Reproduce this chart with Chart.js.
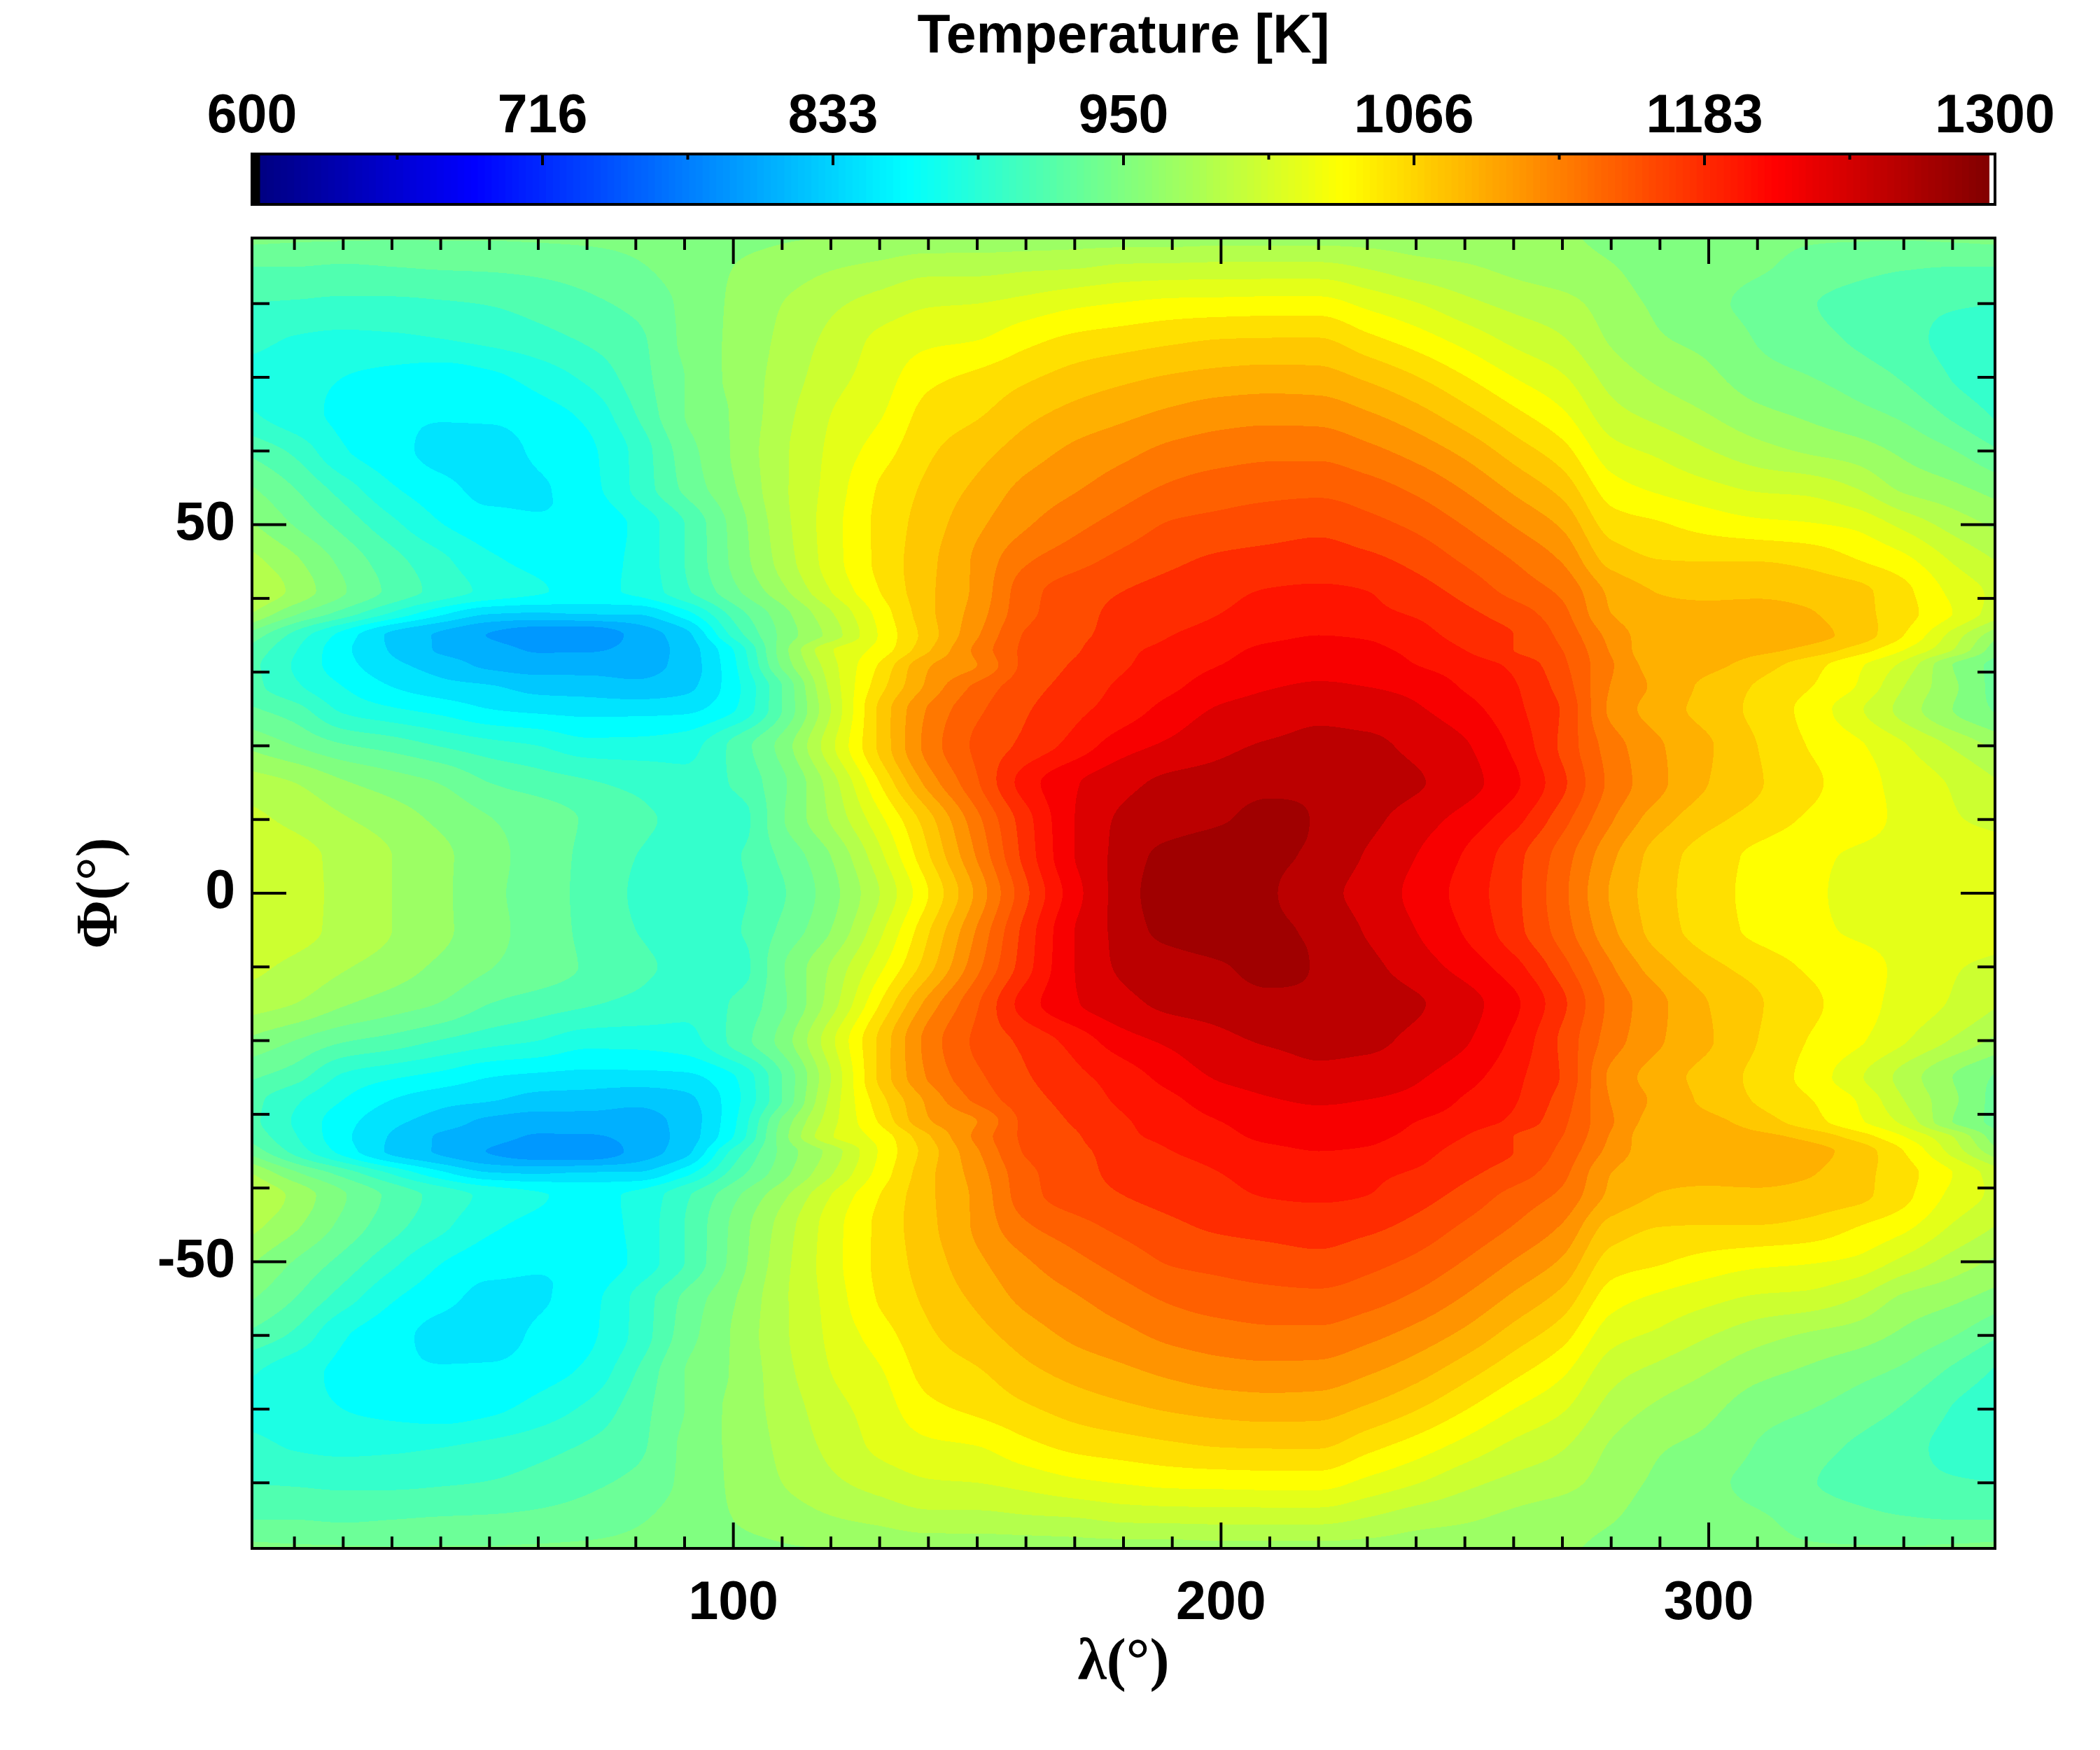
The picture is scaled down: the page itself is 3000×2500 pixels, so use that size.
<!DOCTYPE html>
<html>
<head>
<meta charset="utf-8">
<title>Temperature map</title>
<script src="https://cdn.jsdelivr.net/npm/chart.js@4/dist/chart.umd.js"></script>
<style>
  html, body { margin: 0; padding: 0; background: #fff; }
  #wrap { position: relative; width: 3000px; height: 2500px; }
  canvas { position: absolute; left: 0; top: 0; }
</style>
</head>
<body>
<div id="wrap">
  <canvas id="mapChart" width="3000" height="2500"></canvas>
  <canvas id="barChart" width="3000" height="330"></canvas>
</div>
<script>
// Longitudes of the sampled columns (deg)
const lonValues = [0,10,20,30,40,50,60,70,80,90,100,110,120,130,140,150,160,170,180,190,200,210,220,230,240,250,260,270,280,290,300,310,320,330,340,350,360];
// Latitudes of the sampled rows (deg), the map is mirrored about the equator
const latValues = [0,5,10,15,20,25,28,31,33,35,38,41,45,50,55,60,65,70,75,80,85,89];
// Temperature [K], one row per latitude
const temp00 = [1019,1013,1004,990,976,959,945,931,916,909,914,934,965,1008,1062,1121,1184,1235,1269,1289,1291,1280,1267,1253,1237,1217,1193,1157,1114,1087,1069,1057,1048,1040,1037,1033,1031];
const temp05 = [1017,1013,1003,990,976,961,945,932,918,911,916,940,972,1021,1078,1136,1195,1242,1267,1285,1289,1282,1274,1258,1242,1222,1195,1161,1120,1089,1071,1058,1049,1042,1039,1035,1031];
const temp10 = [1013,1004,992,981,968,955,945,934,923,913,909,952,992,1039,1091,1147,1199,1242,1263,1269,1276,1285,1276,1265,1251,1235,1213,1177,1136,1105,1085,1073,1060,1051,1040,1028,1021];
const temp15 = [999,990,974,963,953,936,927,920,913,905,920,950,999,1062,1123,1168,1215,1240,1255,1264,1267,1271,1274,1269,1262,1249,1228,1192,1147,1120,1098,1082,1067,1053,1037,1024,1008];
const temp20 = [970,954,938,929,917,907,900,889,889,893,923,961,1021,1084,1141,1174,1193,1213,1235,1246,1256,1262,1265,1264,1255,1244,1220,1184,1143,1118,1100,1080,1062,1048,1028,1006,983];
const temp25 = [940,925,896,884,875,864,859,857,857,859,880,936,1008,1084,1136,1166,1186,1201,1215,1231,1244,1249,1255,1251,1244,1231,1211,1186,1130,1107,1091,1075,1057,1031,1001,972,949];
const temp28 = [927,904,882,864,853,848,839,837,833,841,875,936,1013,1073,1121,1157,1181,1195,1210,1221,1234,1241,1244,1242,1237,1222,1208,1180,1133,1111,1093,1078,1064,1044,1008,976,943];
const temp31 = [927,898,871,851,837,824,819,820,821,835,878,958,1019,1064,1114,1134,1175,1190,1204,1215,1224,1233,1237,1235,1224,1215,1202,1174,1136,1107,1103,1089,1071,1049,1021,972,945];
const temp33 = [934,902,869,844,826,819,808,808,817,835,882,963,1024,1051,1096,1139,1174,1186,1202,1211,1219,1228,1231,1228,1219,1206,1188,1170,1132,1103,1107,1103,1093,1073,1044,1008,954];
const temp35 = [952,912,875,842,825,809,798,796,816,839,905,959,997,1046,1089,1132,1172,1184,1195,1206,1213,1220,1224,1222,1213,1199,1188,1165,1128,1105,1112,1112,1105,1091,1062,1019,972];
const temp38 = [995,958,929,898,869,848,845,848,848,875,925,965,1006,1051,1093,1125,1165,1181,1193,1199,1206,1212,1217,1210,1204,1192,1179,1157,1116,1102,1103,1105,1100,1087,1069,1044,1012];
const temp41 = [1012,985,956,931,911,895,884,877,886,914,949,985,1026,1062,1094,1121,1163,1179,1188,1195,1202,1207,1209,1206,1196,1182,1164,1148,1112,1097,1094,1094,1091,1085,1067,1039,1019];
const temp45 = [999,976,949,925,905,886,877,873,887,918,958,997,1035,1067,1093,1120,1150,1164,1176,1185,1192,1195,1197,1193,1183,1168,1152,1133,1092,1081,1080,1080,1076,1064,1050,1025,1006];
const temp50 = [977,953,930,905,883,871,866,868,886,918,960,1001,1036,1067,1089,1112,1132,1147,1160,1172,1176,1180,1183,1176,1166,1151,1133,1113,1072,1064,1055,1049,1046,1040,1021,1001,985];
const temp55 = [958,936,909,884,870,859,862,875,904,940,970,1004,1033,1064,1084,1102,1121,1132,1144,1155,1161,1164,1165,1159,1148,1132,1112,1091,1052,1040,1031,1023,1020,1008,986,976,963];
const temp60 = [934,914,884,871,858,855,868,878,905,945,974,1004,1030,1053,1077,1091,1107,1120,1129,1139,1144,1147,1147,1139,1127,1111,1090,1069,1033,1022,1009,997,988,981,968,955,936];
const temp65 = [904,889,878,869,866,868,875,886,918,954,974,1001,1026,1042,1069,1078,1093,1104,1112,1120,1126,1128,1127,1118,1105,1087,1067,1047,1015,1002,990,977,969,960,950,932,913];
const temp70 = [893,887,882,877,873,878,889,904,927,954,977,997,1019,1035,1057,1066,1077,1087,1094,1100,1104,1106,1105,1095,1081,1063,1044,1028,1001,986,976,962,955,946,934,917,905];
const temp75 = [908,898,895,896,899,904,911,920,931,958,976,994,1013,1030,1040,1044,1057,1067,1072,1077,1081,1082,1082,1068,1054,1038,1022,1010,988,974,967,953,943,934,924,913,907];
const temp80 = [918,916,914,914,916,919,925,932,941,958,975,990,1004,1015,1024,1026,1032,1040,1045,1049,1050,1051,1051,1039,1027,1013,1003,996,981,968,958,949,938,930,923,920,918];
const temp85 = [936,936,934,936,938,939,941,945,952,961,972,979,988,994,1001,1001,1004,1006,1011,1012,1013,1013,1013,1006,997,992,985,979,973,963,959,956,949,943,938,936,936];
const temp89 = [961,958,957,956,956,956,957,958,959,961,967,970,972,974,976,977,977,979,979,979,981,981,981,981,979,977,976,974,967,961,959,958,956,956,956,958,961];
const tempRows = [temp00,temp05,temp10,temp15,temp20,temp25,temp28,temp31,temp33,temp35,temp38,temp41,temp45,temp50,temp55,temp60,temp65,temp70,temp75,temp80,temp85,temp89];

// Filled contour levels
const levelStart = 792;
const levelStep = 18;
const bandColors = ['#0098ff','#00b0ff','#00c8ff','#00e4ff','#00ffff','#1cffe4','#34ffcc','#50ffb0','#6cff98','#80ff80','#9cff64','#b4ff4c','#ccff30','#e4ff18','#ffff00','#ffe000','#ffc800','#ffb000','#ff9400','#ff7800','#ff6000','#ff4c00','#ff2c00','#ff1400','#f80000','#dc0000','#bb0000','#a00000'];

// Axis ticks
const lonTicks = [10,20,30,40,50,60,70,80,90,100,110,120,130,140,150,160,170,180,190,200,210,220,230,240,250,260,270,280,290,300,310,320,330,340,350];
const lonLabels = [100,200,300];
const latTicks = [-80,-70,-60,-50,-40,-30,-20,-10,0,10,20,30,40,50,60,70,80];
const latLabels = [-50,0,50];
const barMajorTicks = [600,716.67,833.33,950,1066.67,1183.33,1300];
const barMinorTicks = [658.33,775,891.67,1008.33,1125,1241.67];
const barLabels = ['600','716','833','950','1066','1183','1300'];

const FONT = '"Liberation Sans", Arial, sans-serif';
const tickFont = { family: FONT, size: 77, weight: 'bold' };
const greekFont = { family: '"Liberation Serif", serif', size: 84, weight: 'bold' };

function segment(ctx, x1, y1, x2, y2, width) {
  ctx.lineWidth = width;
  ctx.beginPath();
  ctx.moveTo(x1, y1);
  ctx.lineTo(x2, y2);
  ctx.stroke();
}

function findCell(axis, v) {
  let i = 0;
  while (i < axis.length - 2 && v > axis[i + 1]) i++;
  return i;
}

// Slopes for a shape preserving curve through the samples, so the bands do not overshoot
function slopes(axis, vals) {
  const n = axis.length;
  const m = new Array(n).fill(0);
  for (let i = 1; i < n - 1; i++) {
    const d0 = (vals[i] - vals[i - 1]) / (axis[i] - axis[i - 1]);
    const d1 = (vals[i + 1] - vals[i]) / (axis[i + 1] - axis[i]);
    if (d0 * d1 > 0) m[i] = 2 * d0 * d1 / (d0 + d1);
  }
  m[n - 1] = (vals[n - 1] - vals[n - 2]) / (axis[n - 1] - axis[n - 2]);
  m[0] = (vals[1] - vals[0]) / (axis[1] - axis[0]);
  return m;
}

function hermite(axis, vals, m, i, v) {
  const h = axis[i + 1] - axis[i];
  const t = (v - axis[i]) / h;
  const t2 = t * t, t3 = t2 * t;
  return (2 * t3 - 3 * t2 + 1) * vals[i] + (t3 - 2 * t2 + t) * h * m[i]
    + (-2 * t3 + 3 * t2) * vals[i + 1] + (t3 - t2) * h * m[i + 1];
}

// Paints the contour bands pixel by pixel, going through the chart's scales
const contourPlugin = {
  id: 'contour',
  beforeDatasetsDraw(chart) {
    const { ctx, chartArea: area, scales: { x, y } } = chart;
    const left = Math.round(area.left), right = Math.round(area.right);
    const top = Math.round(area.top), bottom = Math.round(area.bottom);
    const pixLon = [], pixCell = [];
    for (let px = left; px < right; px++) {
      const lon = x.getValueForPixel(px + 0.5);
      pixLon.push(lon);
      pixCell.push(findCell(lonValues, lon));
    }
    // one vertical curve per longitude
    const colVals = lonValues.map((_, c) => tempRows.map(row => row[c]));
    const colSlopes = colVals.map(vals => {
      const m = slopes(latValues, vals);
      m[0] = 0; // mirror plane
      return m;
    });
    ctx.save();
    for (let py = top; py < bottom; py++) {
      const lat = Math.abs(y.getValueForPixel(py + 0.5));
      const r = findCell(latValues, lat);
      const rowVals = colVals.map((vals, c) => hermite(latValues, vals, colSlopes[c], r, lat));
      const rowSlopes = slopes(lonValues, rowVals);
      let runStart = left, runBand = -1;
      for (let n = 0; n <= pixLon.length; n++) {
        let band = -2;
        if (n < pixLon.length) {
          const t = hermite(lonValues, rowVals, rowSlopes, pixCell[n], pixLon[n]);
          band = Math.max(0, Math.min(bandColors.length - 1, Math.floor((t - levelStart) / levelStep)));
        }
        if (band !== runBand) {
          if (runBand >= 0) {
            ctx.fillStyle = bandColors[runBand];
            ctx.fillRect(runStart, py, left + n - runStart, 1);
          }
          runStart = left + n;
          runBand = band;
        }
      }
    }
    ctx.restore();
  },
  afterDraw(chart) {
    const { ctx, chartArea: area, scales: { x, y } } = chart;
    ctx.save();
    ctx.strokeStyle = '#000';
    lonTicks.forEach(v => {
      const px = x.getPixelForValue(v);
      const len = lonLabels.includes(v) ? 37 : 17;
      segment(ctx, px, area.bottom, px, area.bottom - len, 4);
      segment(ctx, px, area.top, px, area.top + len, 4);
    });
    latTicks.forEach(v => {
      const py = y.getPixelForValue(v);
      const len = latLabels.includes(v) ? 49 : 25;
      segment(ctx, area.left, py, area.left + len, py, 4);
      segment(ctx, area.right, py, area.right - len, py, 4);
    });
    ctx.lineWidth = 4;
    ctx.strokeRect(area.left, area.top, area.right - area.left, area.bottom - area.top);
    ctx.restore();
  }
};

const barFramePlugin = {
  id: 'barFrame',
  afterDraw(chart) {
    const { ctx, chartArea: area, scales: { x } } = chart;
    ctx.save();
    ctx.strokeStyle = '#000';
    barMajorTicks.forEach(v => {
      const px = x.getPixelForValue(v);
      segment(ctx, px, area.top, px, area.top + 16, 4);
    });
    barMinorTicks.forEach(v => {
      const px = x.getPixelForValue(v);
      segment(ctx, px, area.top, px, area.top + 8, 4);
    });
    ctx.lineWidth = 4;
    ctx.strokeRect(area.left, area.top, area.right - area.left, area.bottom - area.top);
    ctx.restore();
  }
};

// Rainbow table of the colour bar, first entry black and last entry white
function barColor(i) {
  if (i === 0) return '#000';
  if (i === 255) return '#fff';
  const t = i / 255;
  const ramp = d => Math.round(255 * Math.max(0, Math.min(1, 1.5 - 4 * Math.abs(t - d))));
  return `rgb(${ramp(0.75)},${ramp(0.5)},${ramp(0.25)})`;
}

function renderMap() {
  const points = [];
  latValues.forEach((lat, r) => {
    lonValues.forEach((lon, c) => {
      points.push({ x: lon, y: lat, v: tempRows[r][c] });
      if (lat > 0) points.push({ x: lon, y: -lat, v: tempRows[r][c] });
    });
  });
  new Chart(document.getElementById('mapChart'), {
    type: 'scatter',
    data: { datasets: [{ label: 'Temperature [K]', data: points, pointRadius: 0, pointHoverRadius: 0 }] },
    plugins: [contourPlugin],
    options: {
      responsive: false,
      animation: false,
      layout: { padding: { left: 0, right: 150, top: 340, bottom: 0 } },
      plugins: { legend: { display: false }, tooltip: { enabled: false } },
      scales: {
        x: {
          type: 'linear',
          min: 1.3,
          max: 358.7,
          afterBuildTicks: scale => { scale.ticks = lonTicks.map(value => ({ value })); },
          afterFit: scale => { scale.height = 288; },
          grid: { display: false, drawTicks: false },
          border: { display: false },
          ticks: {
            autoSkip: false, maxRotation: 0, padding: 34, color: '#000', font: tickFont,
            callback: v => (lonLabels.includes(v) ? String(v) : '')
          },
          title: {
            display: true, text: 'λ(°)', color: '#000', font: greekFont,
            padding: { top: 0, bottom: 72 }
          }
        },
        y: {
          type: 'linear',
          min: -88.9,
          max: 88.9,
          afterBuildTicks: scale => { scale.ticks = latTicks.map(value => ({ value })); },
          afterFit: scale => { scale.width = 360; },
          grid: { display: false, drawTicks: false },
          border: { display: false },
          ticks: {
            autoSkip: false, padding: 24, color: '#000', font: tickFont,
            callback: v => (latLabels.includes(v) ? String(v) : '')
          },
          title: {
            display: true, text: 'Φ(°)', color: '#000', font: greekFont,
            padding: { top: 95, bottom: 0 }
          }
        }
      }
    }
  });
}

function renderBar() {
  const step = 700 / 256;
  const datasets = [];
  for (let i = 0; i < 256; i++) {
    const lo = 600 + i * step;
    datasets.push({
      data: [[lo, Math.min(1300, lo + step + 0.4)]],
      backgroundColor: barColor(i),
      borderWidth: 0,
      barPercentage: 1,
      categoryPercentage: 1,
      grouped: false
    });
  }
  new Chart(document.getElementById('barChart'), {
    type: 'bar',
    data: { labels: ['Temperature [K]'], datasets },
    plugins: [barFramePlugin],
    options: {
      responsive: false,
      animation: false,
      indexAxis: 'y',
      layout: { padding: { left: 360, right: 150, top: 0, bottom: 38 } },
      plugins: { legend: { display: false }, tooltip: { enabled: false } },
      scales: {
        x: {
          type: 'linear',
          position: 'top',
          min: 600,
          max: 1300,
          afterBuildTicks: scale => { scale.ticks = barMajorTicks.map(value => ({ value })); },
          afterFit: scale => { scale.height = 220; },
          grid: { display: false, drawTicks: false },
          border: { display: false },
          ticks: {
            autoSkip: false, maxRotation: 0, padding: 6, color: '#000', font: tickFont,
            callback: (v, i) => barLabels[i]
          },
          title: {
            display: true, text: 'Temperature [K]', color: '#000', font: tickFont,
            padding: { top: 8, bottom: 0 }
          }
        },
        y: { display: false }
      }
    }
  });
}

renderMap();
renderBar();
</script>
</body>
</html>
